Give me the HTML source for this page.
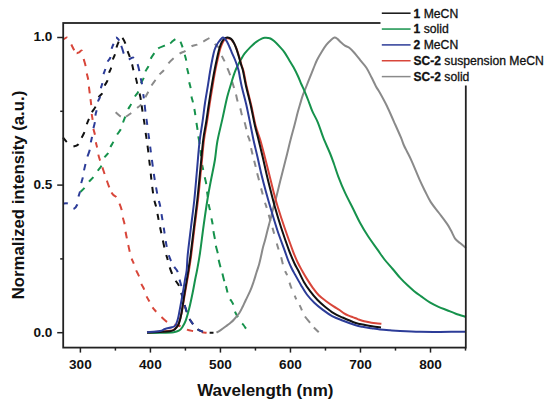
<!DOCTYPE html>
<html><head><meta charset="utf-8"><style>
html,body{margin:0;padding:0;background:#fff;}
svg{display:block;}
text{font-family:"Liberation Sans",sans-serif;fill:#111;}
.tl{font-size:13.6px;font-weight:bold;}
.ti{font-size:17px;font-weight:bold;}
.lg{font-size:12.2px;stroke:#111;stroke-width:0.3px;}
</style></head><body>
<svg width="550" height="404" viewBox="0 0 550 404">
<rect width="550" height="404" fill="#fff"/>
<path d="M115.60,112.30 C116.47,113.03 119.48,115.88 120.80,116.70 C122.12,117.52 122.63,117.20 123.50,117.20 C124.37,117.20 124.72,117.40 126.00,116.70 C127.28,116.00 129.78,114.03 131.20,113.00 C132.62,111.97 133.50,111.33 134.50,110.50 C135.50,109.67 136.12,109.00 137.20,108.00 C138.28,107.00 139.65,106.28 141.00,104.50 C142.35,102.72 144.08,99.42 145.30,97.30 C146.52,95.18 147.27,93.77 148.30,91.80 C149.33,89.83 150.30,87.47 151.50,85.50 C152.70,83.53 154.17,81.83 155.50,80.00 C156.83,78.17 158.10,76.15 159.50,74.50 C160.90,72.85 162.42,71.95 163.90,70.10 C165.38,68.25 166.78,65.38 168.40,63.40 C170.02,61.42 171.75,59.82 173.60,58.20 C175.45,56.58 177.53,54.93 179.50,53.70 C181.47,52.47 183.42,52.03 185.40,50.80 C187.38,49.57 189.42,47.33 191.40,46.30 C193.38,45.27 195.33,45.38 197.30,44.60 C199.27,43.82 201.20,42.67 203.20,41.60 C205.20,40.53 207.97,38.83 209.30,38.20 C210.63,37.57 210.33,36.92 211.20,37.80 C212.07,38.68 213.22,41.83 214.50,43.50 C215.78,45.17 217.70,45.78 218.90,47.80 C220.10,49.82 220.77,53.37 221.70,55.60 C222.63,57.83 223.57,59.15 224.50,61.20 C225.43,63.25 226.37,65.60 227.30,67.90 C228.23,70.20 229.15,72.23 230.10,75.00 C231.05,77.77 232.03,81.28 233.00,84.50 C233.97,87.72 235.13,91.52 235.90,94.30 C236.67,97.08 236.88,98.90 237.60,101.20 C238.32,103.50 239.48,105.80 240.20,108.10 C240.92,110.40 241.18,112.68 241.90,115.00 C242.62,117.32 243.77,119.68 244.50,122.00 C245.23,124.32 245.72,126.58 246.30,128.90 C246.88,131.22 247.47,134.05 248.00,135.90 C248.53,137.75 248.92,137.65 249.50,140.00 C250.08,142.35 250.83,147.00 251.50,150.00 C252.17,153.00 252.83,155.33 253.50,158.00 C254.17,160.67 254.90,163.52 255.50,166.00 C256.10,168.48 256.53,170.58 257.10,172.90 C257.67,175.22 258.25,177.38 258.90,179.90 C259.55,182.42 260.32,185.40 261.00,188.00 C261.68,190.60 262.35,193.10 263.00,195.50 C263.65,197.90 264.28,200.38 264.90,202.40 C265.52,204.42 266.10,205.67 266.70,207.60 C267.30,209.53 267.87,211.77 268.50,214.00 C269.13,216.23 269.85,218.75 270.50,221.00 C271.15,223.25 271.80,225.40 272.40,227.50 C273.00,229.60 273.38,231.00 274.10,233.60 C274.82,236.20 275.97,240.50 276.70,243.10 C277.43,245.70 277.77,246.88 278.50,249.20 C279.23,251.52 280.38,254.55 281.10,257.00 C281.82,259.45 282.15,261.58 282.80,263.90 C283.45,266.22 284.30,269.05 285.00,270.90 C285.70,272.75 286.33,273.32 287.00,275.00 C287.67,276.68 288.33,279.00 289.00,281.00 C289.67,283.00 290.25,285.08 291.00,287.00 C291.75,288.92 292.67,290.53 293.50,292.50 C294.33,294.47 295.00,296.72 296.00,298.80 C297.00,300.88 298.52,303.10 299.50,305.00 C300.48,306.90 301.03,308.35 301.90,310.20 C302.77,312.05 303.37,314.02 304.70,316.10 C306.03,318.18 308.40,320.83 309.90,322.70 C311.40,324.57 312.23,325.70 313.70,327.30 C315.17,328.90 317.87,331.47 318.70,332.30" fill="none" stroke="#8a8a8a" stroke-width="2.0" stroke-linejoin="round" stroke-dasharray="0.00,0.00,6.82,5.42,6.39,7.71,5.46,8.22,6.27,7.07,6.80,6.80,6.23,8.08,7.36,7.43,6.58,7.51,6.16,6.62,6.98,9.07,6.03,8.30,6.26,7.26,7.63,6.88,6.40,6.88,7.11,7.38,7.11,7.47,7.13,6.54,6.40,6.54,6.40,6.54,6.40,6.54,7.23,8.44,6.40,8.44,5.50,7.15,6.40,7.15,6.33,9.85,6.36,8.22,7.11,7.34,4.57,7.72,6.40,7.72,3.97,6.61,5.74,6.90,8.00,6.17,7.07,20.00"/>
<path d="M80.00,192.30 C80.75,191.55 83.00,189.57 84.50,187.80 C86.00,186.03 87.52,183.47 89.00,181.70 C90.48,179.93 91.93,179.02 93.40,177.20 C94.87,175.38 96.45,172.73 97.80,170.80 C99.15,168.87 100.38,167.83 101.50,165.60 C102.62,163.37 103.38,159.50 104.50,157.40 C105.62,155.30 107.22,154.72 108.20,153.00 C109.18,151.28 109.53,148.95 110.40,147.10 C111.27,145.25 112.28,144.00 113.40,141.90 C114.52,139.80 115.87,136.60 117.10,134.50 C118.33,132.40 119.82,131.28 120.80,129.30 C121.78,127.32 122.25,124.70 123.00,122.60 C123.75,120.50 124.43,118.92 125.30,116.70 C126.17,114.48 127.22,111.40 128.20,109.30 C129.18,107.20 130.08,106.20 131.20,104.10 C132.32,102.00 133.72,98.78 134.90,96.70 C136.08,94.62 137.30,93.82 138.30,91.60 C139.30,89.38 139.97,85.75 140.90,83.40 C141.83,81.05 143.15,79.48 143.90,77.50 C144.65,75.52 144.65,73.37 145.40,71.50 C146.15,69.63 147.53,68.40 148.40,66.30 C149.27,64.20 149.62,61.08 150.60,58.90 C151.58,56.72 153.07,54.93 154.30,53.20 C155.53,51.47 156.27,49.77 158.00,48.50 C159.73,47.23 162.72,46.43 164.70,45.60 C166.68,44.77 168.60,44.22 169.90,43.50 C171.20,42.78 171.63,42.00 172.50,41.30 C173.37,40.60 174.30,39.72 175.10,39.30 C175.90,38.88 176.43,38.43 177.30,38.80 C178.17,39.17 179.43,40.12 180.30,41.50 C181.17,42.88 181.77,44.93 182.50,47.10 C183.23,49.27 184.08,52.28 184.70,54.50 C185.32,56.72 185.82,58.18 186.20,60.40 C186.58,62.62 186.63,65.57 187.00,67.80 C187.37,70.03 188.03,71.45 188.40,73.80 C188.77,76.15 188.83,79.55 189.20,81.90 C189.57,84.25 190.23,85.53 190.60,87.90 C190.97,90.27 191.02,93.73 191.40,96.10 C191.78,98.47 192.42,100.00 192.90,102.10 C193.38,104.20 193.87,106.38 194.30,108.70 C194.73,111.02 195.13,113.62 195.50,116.00 C195.87,118.38 196.17,120.75 196.50,123.00 C196.83,125.25 197.20,127.30 197.50,129.50 C197.80,131.70 197.97,133.97 198.30,136.20 C198.63,138.43 199.08,140.02 199.50,142.90 C199.92,145.78 200.42,150.15 200.80,153.50 C201.18,156.85 201.40,160.30 201.80,163.00 C202.20,165.70 202.72,167.37 203.20,169.70 C203.68,172.03 204.20,174.65 204.70,177.00 C205.20,179.35 205.82,181.43 206.20,183.80 C206.58,186.17 206.73,189.00 207.00,191.20 C207.27,193.40 207.53,194.87 207.80,197.00 C208.07,199.13 208.25,201.87 208.60,204.00 C208.95,206.13 209.43,207.47 209.90,209.80 C210.37,212.13 210.95,215.63 211.40,218.00 C211.85,220.37 212.23,221.65 212.60,224.00 C212.97,226.35 213.22,229.62 213.60,232.10 C213.98,234.58 214.53,236.68 214.90,238.90 C215.27,241.12 215.33,243.07 215.80,245.40 C216.27,247.73 217.23,250.57 217.70,252.90 C218.17,255.23 218.15,257.08 218.60,259.40 C219.05,261.72 219.78,264.48 220.40,266.80 C221.02,269.12 221.67,270.97 222.30,273.30 C222.93,275.63 223.58,278.63 224.20,280.80 C224.82,282.97 225.38,284.13 226.00,286.30 C226.62,288.47 227.32,291.77 227.90,293.80 C228.48,295.83 228.95,297.33 229.50,298.50 C230.05,299.67 230.55,299.75 231.20,300.80 C231.85,301.85 232.78,303.02 233.40,304.80 C234.02,306.58 234.15,309.40 234.90,311.50 C235.65,313.60 236.92,315.67 237.90,317.40 C238.88,319.13 239.87,320.63 240.80,321.90 C241.73,323.17 242.63,323.88 243.50,325.00 C244.37,326.12 245.58,328.00 246.00,328.60" fill="none" stroke="#16924c" stroke-width="2.0" stroke-linejoin="round" stroke-dasharray="0.00,0.85,5.52,7.58,6.30,7.77,6.39,8.74,5.78,6.31,6.01,8.28,6.39,7.06,6.33,7.95,6.01,8.27,6.14,8.61,6.15,6.67,6.02,7.73,6.65,6.18,7.32,5.61,6.70,6.45,6.03,7.72,6.09,7.45,6.16,8.14,6.17,8.24,6.19,6.75,6.11,7.84,7.09,6.58,7.66,6.19,6.09,8.80,5.32,7.45,6.96,7.44,5.38,7.36,6.11,8.34,6.12,6.83,8.00,6.82,7.74,6.56,7.62,6.77,7.74,5.30,6.44,7.43,6.23,7.26,6.34,7.43,6.82,20.06"/>
<path d="M63.00,39.60 C63.42,39.37 64.82,38.53 65.50,38.20 C66.18,37.87 66.43,37.13 67.10,37.60 C67.77,38.07 68.83,39.92 69.50,41.00 C70.17,42.08 70.33,42.60 71.10,44.10 C71.87,45.60 73.23,48.48 74.10,50.00 C74.97,51.52 75.48,52.82 76.30,53.20 C77.12,53.58 78.05,52.70 79.00,52.30 C79.95,51.90 81.22,49.70 82.00,50.80 C82.78,51.90 83.12,56.43 83.70,58.90 C84.28,61.37 85.00,63.25 85.50,65.60 C86.00,67.95 86.25,70.68 86.70,73.00 C87.15,75.32 87.83,77.27 88.20,79.50 C88.57,81.73 88.65,84.15 88.90,86.40 C89.15,88.65 89.43,90.90 89.70,93.00 C89.97,95.10 90.25,97.00 90.50,99.00 C90.75,101.00 91.00,102.55 91.20,105.00 C91.40,107.45 91.47,111.25 91.70,113.70 C91.93,116.15 92.32,117.22 92.60,119.70 C92.88,122.18 93.02,126.13 93.40,128.60 C93.78,131.07 94.50,132.28 94.90,134.50 C95.30,136.72 95.43,139.73 95.80,141.90 C96.17,144.07 96.68,145.40 97.10,147.50 C97.52,149.60 97.82,152.35 98.30,154.50 C98.78,156.65 99.33,158.30 100.00,160.40 C100.67,162.50 101.55,164.88 102.30,167.10 C103.05,169.32 103.75,171.47 104.50,173.70 C105.25,175.93 106.05,178.33 106.80,180.50 C107.55,182.67 108.30,184.87 109.00,186.70 C109.70,188.53 110.27,190.12 111.00,191.50 C111.73,192.88 112.50,194.03 113.40,195.00 C114.30,195.97 115.42,195.93 116.40,197.30 C117.38,198.67 118.43,201.12 119.30,203.20 C120.17,205.28 121.02,207.45 121.60,209.80 C122.18,212.15 122.32,214.95 122.80,217.30 C123.28,219.65 124.05,221.55 124.50,223.90 C124.95,226.25 125.12,229.05 125.50,231.40 C125.88,233.75 126.35,235.78 126.80,238.00 C127.25,240.22 127.72,242.47 128.20,244.70 C128.68,246.93 129.15,249.15 129.70,251.40 C130.25,253.65 130.83,256.20 131.50,258.20 C132.17,260.20 132.95,261.43 133.70,263.40 C134.45,265.37 135.13,267.90 136.00,270.00 C136.87,272.10 138.03,273.77 138.90,276.00 C139.77,278.23 140.33,281.18 141.20,283.40 C142.07,285.62 143.23,287.20 144.10,289.30 C144.97,291.40 145.53,294.02 146.40,296.00 C147.27,297.98 148.32,299.35 149.30,301.20 C150.28,303.05 151.18,305.38 152.30,307.10 C153.42,308.82 154.52,309.90 156.00,311.50 C157.48,313.10 159.70,315.23 161.20,316.70 C162.70,318.17 163.93,319.42 165.00,320.30 C166.07,321.18 166.02,321.28 167.60,322.00 C169.18,322.72 172.33,323.88 174.50,324.60 C176.67,325.32 178.57,325.48 180.60,326.30 C182.63,327.12 184.68,328.72 186.70,329.50 C188.72,330.28 190.25,330.53 192.70,331.00 C195.15,331.47 199.08,332.02 201.40,332.30 C203.72,332.58 205.73,332.63 206.60,332.70" fill="none" stroke="#d8463a" stroke-width="2.0" stroke-linejoin="round" stroke-dasharray="0.00,0.00,4.87,7.94,6.48,3.93,6.53,8.01,7.50,7.31,6.50,6.94,6.65,5.90,6.01,8.90,6.07,8.94,6.09,7.46,5.43,7.25,6.31,7.08,6.96,7.01,7.19,5.46,6.90,7.23,6.83,7.60,6.82,7.57,6.73,6.84,6.87,7.04,5.65,6.99,6.67,7.75,6.58,7.09,5.96,6.62,5.76,7.35,7.59,7.61,6.38,7.22,6.36,8.80,5.22,20.00"/>
<path d="M63.00,137.50 C63.62,138.25 65.53,140.53 66.70,142.00 C67.87,143.47 68.88,145.53 70.00,146.30 C71.12,147.07 71.98,146.95 73.40,146.60 C74.82,146.25 77.15,145.63 78.50,144.20 C79.85,142.77 80.50,140.03 81.50,138.00 C82.50,135.97 83.63,134.25 84.50,132.00 C85.37,129.75 85.97,126.68 86.70,124.50 C87.43,122.32 88.03,120.93 88.90,118.90 C89.77,116.87 90.78,114.37 91.90,112.30 C93.02,110.23 94.48,108.98 95.60,106.50 C96.72,104.02 97.48,99.62 98.60,97.40 C99.72,95.18 101.32,95.10 102.30,93.20 C103.28,91.30 103.63,88.13 104.50,86.00 C105.37,83.87 106.75,82.57 107.50,80.40 C108.25,78.23 108.38,75.10 109.00,73.00 C109.62,70.90 110.58,69.97 111.20,67.80 C111.82,65.63 112.08,62.22 112.70,60.00 C113.32,57.78 114.28,56.53 114.90,54.50 C115.52,52.47 115.78,49.90 116.40,47.80 C117.02,45.70 117.92,43.50 118.60,41.90 C119.28,40.30 119.88,38.92 120.50,38.20 C121.12,37.48 121.50,36.73 122.30,37.60 C123.10,38.47 124.43,41.20 125.30,43.40 C126.17,45.60 126.77,48.58 127.50,50.80 C128.23,53.02 128.95,54.50 129.70,56.70 C130.45,58.90 131.38,61.78 132.00,64.00 C132.62,66.22 132.78,67.75 133.40,70.00 C134.02,72.25 135.02,75.00 135.70,77.50 C136.38,80.00 136.87,82.38 137.50,85.00 C138.13,87.62 138.93,90.70 139.50,93.20 C140.07,95.70 140.48,97.53 140.90,100.00 C141.32,102.47 141.62,105.33 142.00,108.00 C142.38,110.67 142.77,113.28 143.20,116.00 C143.63,118.72 144.20,121.55 144.60,124.30 C145.00,127.05 145.22,129.72 145.60,132.50 C145.98,135.28 146.47,137.92 146.90,141.00 C147.33,144.08 147.82,147.83 148.20,151.00 C148.58,154.17 148.87,157.17 149.20,160.00 C149.53,162.83 149.88,165.17 150.20,168.00 C150.52,170.83 150.73,173.67 151.10,177.00 C151.47,180.33 151.92,184.33 152.40,188.00 C152.88,191.67 153.37,195.83 154.00,199.00 C154.63,202.17 155.57,204.25 156.20,207.00 C156.83,209.75 157.23,212.50 157.80,215.50 C158.37,218.50 158.98,221.92 159.60,225.00 C160.22,228.08 160.90,231.17 161.50,234.00 C162.10,236.83 162.55,239.00 163.20,242.00 C163.85,245.00 164.68,249.17 165.40,252.00 C166.12,254.83 166.80,256.50 167.50,259.00 C168.20,261.50 168.85,264.58 169.60,267.00 C170.35,269.42 171.03,271.27 172.00,273.50 C172.97,275.73 174.25,278.38 175.40,280.40 C176.55,282.42 177.92,283.42 178.90,285.60 C179.88,287.78 180.62,291.35 181.30,293.50 C181.98,295.65 182.47,296.63 183.00,298.50 C183.53,300.37 183.88,302.52 184.50,304.70 C185.12,306.88 185.90,309.30 186.70,311.60 C187.50,313.90 188.30,316.48 189.30,318.50 C190.30,320.52 191.40,321.97 192.70,323.70 C194.00,325.43 195.50,327.60 197.10,328.90 C198.70,330.20 200.65,330.88 202.30,331.50 C203.95,332.12 205.13,332.40 207.00,332.60 C208.87,332.80 212.42,332.68 213.50,332.70" fill="none" stroke="#111111" stroke-width="2.0" stroke-linejoin="round" stroke-dasharray="0.00,0.00,5.83,8.99,5.71,7.09,6.36,8.17,5.85,7.25,6.69,9.80,5.49,7.87,6.19,7.56,5.66,8.12,5.76,6.87,6.30,6.51,6.55,7.72,6.30,7.65,6.16,7.85,6.13,10.03,6.39,5.55,6.30,7.38,5.91,8.26,6.12,6.72,6.80,7.46,6.05,8.12,5.94,7.32,6.27,7.64,6.08,7.46,6.08,7.49,6.21,7.53,6.93,7.62,5.35,7.68,6.93,7.70,6.28,7.16,4.21,8.55,7.24,7.38,6.22,6.83,5.84,7.06,4.29,20.00"/>
<path d="M63.00,203.50 C63.80,203.50 66.55,203.00 67.80,203.50 C69.05,204.00 69.57,205.58 70.50,206.50 C71.43,207.42 72.27,209.33 73.40,209.00 C74.53,208.67 76.47,206.50 77.30,204.50 C78.13,202.50 77.95,199.17 78.40,197.00 C78.85,194.83 79.53,193.77 80.00,191.50 C80.47,189.23 80.73,185.73 81.20,183.40 C81.67,181.07 82.33,179.65 82.80,177.50 C83.27,175.35 83.55,172.75 84.00,170.50 C84.45,168.25 84.93,166.30 85.50,164.00 C86.07,161.70 86.70,159.03 87.40,156.70 C88.10,154.37 89.13,152.37 89.70,150.00 C90.27,147.63 90.42,144.67 90.80,142.50 C91.18,140.33 91.57,139.32 92.00,137.00 C92.43,134.68 92.92,131.10 93.40,128.60 C93.88,126.10 94.53,124.35 94.90,122.00 C95.27,119.65 95.28,116.58 95.60,114.50 C95.92,112.42 96.43,111.58 96.80,109.50 C97.17,107.42 97.27,104.13 97.80,102.00 C98.33,99.87 99.50,98.93 100.00,96.70 C100.50,94.47 100.42,90.82 100.80,88.60 C101.18,86.38 101.93,85.50 102.30,83.40 C102.67,81.30 102.50,78.35 103.00,76.00 C103.50,73.65 104.55,71.63 105.30,69.30 C106.05,66.97 106.65,63.98 107.50,62.00 C108.35,60.02 109.73,59.52 110.40,57.40 C111.07,55.28 111.00,51.52 111.50,49.30 C112.00,47.08 112.72,46.05 113.40,44.10 C114.08,42.15 114.75,38.37 115.60,37.60 C116.45,36.83 117.72,38.52 118.50,39.50 C119.28,40.48 119.68,42.00 120.30,43.50 C120.92,45.00 121.62,46.80 122.20,48.50 C122.78,50.20 123.17,52.03 123.80,53.70 C124.43,55.37 125.27,57.53 126.00,58.50 C126.73,59.47 127.37,59.53 128.20,59.50 C129.03,59.47 130.13,58.62 131.00,58.30 C131.87,57.98 132.65,57.32 133.40,57.60 C134.15,57.88 134.82,58.93 135.50,60.00 C136.18,61.07 136.92,62.42 137.50,64.00 C138.08,65.58 138.50,67.25 139.00,69.50 C139.50,71.75 140.00,75.08 140.50,77.50 C141.00,79.92 141.55,81.33 142.00,84.00 C142.45,86.67 142.83,90.67 143.20,93.50 C143.57,96.33 143.90,98.58 144.20,101.00 C144.50,103.42 144.70,105.50 145.00,108.00 C145.30,110.50 145.63,113.28 146.00,116.00 C146.37,118.72 146.82,121.47 147.20,124.30 C147.58,127.13 147.92,130.22 148.30,133.00 C148.68,135.78 149.12,138.17 149.50,141.00 C149.88,143.83 150.22,147.00 150.60,150.00 C150.98,153.00 151.40,156.00 151.80,159.00 C152.20,162.00 152.58,165.00 153.00,168.00 C153.42,171.00 153.80,173.83 154.30,177.00 C154.80,180.17 155.38,183.58 156.00,187.00 C156.62,190.42 157.30,194.32 158.00,197.50 C158.70,200.68 159.57,203.02 160.20,206.10 C160.83,209.18 161.25,212.68 161.80,216.00 C162.35,219.32 162.97,222.67 163.50,226.00 C164.03,229.33 164.50,232.75 165.00,236.00 C165.50,239.25 165.90,242.42 166.50,245.50 C167.10,248.58 167.88,252.02 168.60,254.50 C169.32,256.98 169.93,258.43 170.80,260.40 C171.67,262.37 172.68,264.45 173.80,266.30 C174.92,268.15 176.55,269.30 177.50,271.50 C178.45,273.70 178.83,276.92 179.50,279.50 C180.17,282.08 180.92,283.92 181.50,287.00 C182.08,290.08 182.50,295.05 183.00,298.00 C183.50,300.95 183.88,302.43 184.50,304.70 C185.12,306.97 185.90,309.30 186.70,311.60 C187.50,313.90 188.30,316.48 189.30,318.50 C190.30,320.52 191.40,321.97 192.70,323.70 C194.00,325.43 195.50,327.60 197.10,328.90 C198.70,330.20 200.65,330.88 202.30,331.50 C203.95,332.12 206.22,332.42 207.00,332.60" fill="none" stroke="#2c3c98" stroke-width="2.0" stroke-linejoin="round" stroke-dasharray="0.00,0.30,4.54,8.11,6.08,7.77,5.40,8.36,5.95,7.09,6.67,7.72,7.09,7.42,5.62,8.69,6.42,6.34,5.68,8.75,5.60,8.15,5.42,9.04,5.49,7.63,5.47,8.19,5.54,6.90,4.69,5.55,8.00,8.60,5.63,7.21,7.31,7.04,6.28,9.76,4.34,6.76,6.66,7.40,6.11,8.13,6.05,7.61,5.95,7.49,6.81,7.42,6.16,7.43,6.23,7.48,6.12,7.49,6.09,7.62,5.85,7.63,5.95,8.53,6.30,6.62,6.40,7.65,6.83,6.47,6.40,6.47,7.42,7.38,6.22,6.83,5.84,24.83"/>
<path d="M216.50,332.60 C217.25,332.13 219.43,330.85 221.00,329.80 C222.57,328.75 224.40,327.40 225.90,326.30 C227.40,325.20 228.65,324.33 230.00,323.20 C231.35,322.07 232.42,321.25 234.00,319.50 C235.58,317.75 238.03,314.87 239.50,312.70 C240.97,310.53 241.75,308.62 242.80,306.50 C243.85,304.38 244.55,302.63 245.80,300.00 C247.05,297.37 249.00,293.73 250.30,290.70 C251.60,287.67 252.58,284.78 253.60,281.80 C254.62,278.82 255.47,275.78 256.40,272.80 C257.33,269.82 258.40,266.78 259.20,263.90 C260.00,261.02 260.58,258.20 261.20,255.50 C261.82,252.80 262.28,250.17 262.90,247.70 C263.52,245.23 264.23,243.18 264.90,240.70 C265.57,238.22 266.23,235.43 266.90,232.80 C267.57,230.17 268.25,227.37 268.90,224.90 C269.55,222.43 269.98,221.15 270.80,218.00 C271.62,214.85 272.82,209.75 273.80,206.00 C274.78,202.25 275.65,199.57 276.70,195.50 C277.75,191.43 278.95,186.23 280.10,181.60 C281.25,176.97 282.43,172.32 283.60,167.70 C284.77,163.08 285.95,158.52 287.10,153.90 C288.25,149.28 289.28,144.73 290.50,140.00 C291.72,135.27 293.18,130.15 294.40,125.50 C295.62,120.85 296.82,115.78 297.80,112.10 C298.78,108.42 299.43,106.30 300.30,103.40 C301.17,100.50 301.97,97.60 303.00,94.70 C304.03,91.80 305.35,88.88 306.50,86.00 C307.65,83.12 308.75,80.28 309.90,77.40 C311.05,74.52 312.23,71.57 313.40,68.70 C314.57,65.83 315.48,63.08 316.90,60.20 C318.32,57.32 320.33,53.97 321.90,51.40 C323.47,48.83 324.82,46.67 326.30,44.80 C327.78,42.93 329.43,41.40 330.80,40.20 C332.17,39.00 333.40,37.82 334.50,37.60 C335.60,37.38 336.28,38.07 337.40,38.90 C338.52,39.73 339.95,41.48 341.20,42.60 C342.45,43.72 343.55,44.73 344.90,45.60 C346.25,46.47 347.70,46.57 349.30,47.80 C350.90,49.03 352.65,50.90 354.50,53.00 C356.35,55.10 358.42,57.93 360.40,60.40 C362.38,62.87 364.53,64.95 366.40,67.80 C368.27,70.65 370.00,74.40 371.60,77.50 C373.20,80.60 374.60,83.82 376.00,86.40 C377.40,88.98 378.18,89.73 380.00,93.00 C381.82,96.27 384.58,101.23 386.90,106.00 C389.22,110.77 391.58,116.40 393.90,121.60 C396.22,126.80 399.12,133.22 400.80,137.20 C402.48,141.18 402.97,143.12 404.00,145.50 C405.03,147.88 405.70,148.87 407.00,151.50 C408.30,154.13 409.65,156.48 411.80,161.30 C413.95,166.12 417.70,175.45 419.90,180.40 C422.10,185.35 423.18,187.38 425.00,191.00 C426.82,194.62 428.47,198.43 430.80,202.10 C433.13,205.77 436.28,209.37 439.00,213.00 C441.72,216.63 445.10,220.98 447.10,223.90 C449.10,226.82 449.63,228.00 451.00,230.50 C452.37,233.00 453.80,236.82 455.30,238.90 C456.80,240.98 458.42,241.65 460.00,243.00 C461.58,244.35 463.80,246.17 464.80,247.00 C465.80,247.83 465.80,247.83 466.00,248.00" fill="none" stroke="#8a8a8a" stroke-width="2.0" stroke-linejoin="round"/>
<path d="M147.00,332.90 C149.17,332.88 155.55,332.92 160.00,332.80 C164.45,332.68 170.55,332.55 173.70,332.20 C176.85,331.85 177.47,331.53 178.90,330.70 C180.33,329.87 181.15,328.93 182.30,327.20 C183.45,325.47 184.63,323.48 185.80,320.30 C186.97,317.12 188.15,312.73 189.30,308.10 C190.45,303.47 191.70,297.40 192.70,292.50 C193.70,287.60 194.57,282.45 195.30,278.70 C196.03,274.95 196.32,274.28 197.10,270.00 C197.88,265.72 198.90,260.50 200.00,253.00 C201.10,245.50 202.42,234.17 203.70,225.00 C204.98,215.83 206.48,205.50 207.70,198.00 C208.92,190.50 209.80,186.33 211.00,180.00 C212.20,173.67 213.85,166.38 214.90,160.00 C215.95,153.62 216.07,148.47 217.30,141.70 C218.53,134.93 220.65,126.83 222.30,119.40 C223.95,111.97 225.75,103.00 227.20,97.10 C228.65,91.20 229.75,88.12 231.00,84.00 C232.25,79.88 233.53,75.57 234.70,72.40 C235.87,69.23 236.95,67.15 238.00,65.00 C239.05,62.85 239.92,61.38 241.00,59.50 C242.08,57.62 242.93,55.77 244.50,53.70 C246.07,51.63 248.43,49.07 250.40,47.10 C252.37,45.13 254.32,43.35 256.30,41.90 C258.28,40.45 260.82,39.08 262.30,38.40 C263.78,37.72 264.25,37.88 265.20,37.80 C266.15,37.72 267.13,37.78 268.00,37.90 C268.87,38.02 269.38,37.97 270.40,38.50 C271.42,39.03 272.48,39.67 274.10,41.10 C275.72,42.53 278.37,45.23 280.10,47.10 C281.83,48.97 283.02,50.20 284.50,52.30 C285.98,54.40 287.52,57.23 289.00,59.70 C290.48,62.17 291.92,64.38 293.40,67.10 C294.88,69.82 296.55,73.10 297.90,76.00 C299.25,78.90 300.40,81.98 301.50,84.50 C302.60,87.02 303.33,88.35 304.50,91.10 C305.67,93.85 307.20,97.65 308.50,101.00 C309.80,104.35 310.75,107.65 312.30,111.20 C313.85,114.75 315.95,117.85 317.80,122.30 C319.65,126.75 321.35,132.70 323.40,137.90 C325.45,143.10 328.33,149.15 330.10,153.50 C331.87,157.85 332.65,160.20 334.00,164.00 C335.35,167.80 336.37,171.52 338.20,176.30 C340.03,181.08 342.50,187.25 345.00,192.70 C347.50,198.15 350.70,204.00 353.20,209.00 C355.70,214.00 357.52,218.15 360.00,222.70 C362.48,227.25 365.15,231.77 368.10,236.30 C371.05,240.83 374.97,246.03 377.70,249.90 C380.43,253.77 382.00,256.32 384.50,259.50 C387.00,262.68 390.05,265.88 392.70,269.00 C395.35,272.12 397.97,275.52 400.40,278.20 C402.83,280.88 405.00,282.93 407.30,285.10 C409.60,287.27 411.88,289.32 414.20,291.20 C416.52,293.08 418.60,294.53 421.20,296.40 C423.80,298.27 426.92,300.67 429.80,302.40 C432.68,304.13 435.62,305.50 438.50,306.80 C441.38,308.10 444.22,309.05 447.10,310.20 C449.98,311.35 452.65,312.60 455.80,313.70 C458.95,314.80 464.30,316.28 466.00,316.80" fill="none" stroke="#16924c" stroke-width="2.0" stroke-linejoin="round"/>
<path d="M147.00,332.40 C149.17,332.27 156.17,331.87 160.00,331.60 C163.83,331.33 167.67,331.15 170.00,330.80 C172.33,330.45 172.92,330.13 174.00,329.50 C175.08,328.87 175.67,328.17 176.50,327.00 C177.33,325.83 178.17,324.78 179.00,322.50 C179.83,320.22 180.58,317.72 181.50,313.30 C182.42,308.88 183.55,301.48 184.50,296.00 C185.45,290.52 186.45,284.73 187.20,280.40 C187.95,276.07 188.33,274.23 189.00,270.00 C189.67,265.77 190.27,262.17 191.20,255.00 C192.13,247.83 193.47,236.17 194.60,227.00 C195.73,217.83 196.93,209.50 198.00,200.00 C199.07,190.50 200.00,180.00 201.00,170.00 C202.00,160.00 203.00,148.02 204.00,140.00 C205.00,131.98 206.08,127.73 207.00,121.90 C207.92,116.07 208.67,110.37 209.50,105.00 C210.33,99.63 211.12,95.03 212.00,89.70 C212.88,84.37 213.77,78.45 214.80,73.00 C215.83,67.55 217.25,61.17 218.20,57.00 C219.15,52.83 219.73,50.47 220.50,48.00 C221.27,45.53 222.05,43.70 222.80,42.20 C223.55,40.70 224.30,39.67 225.00,39.00 C225.70,38.33 226.25,38.27 227.00,38.20 C227.75,38.13 228.67,38.27 229.50,38.60 C230.33,38.93 231.22,39.37 232.00,40.20 C232.78,41.03 233.50,42.30 234.20,43.60 C234.90,44.90 235.53,46.35 236.20,48.00 C236.87,49.65 237.55,51.50 238.20,53.50 C238.85,55.50 239.50,57.92 240.10,60.00 C240.70,62.08 241.23,64.17 241.80,66.00 C242.37,67.83 242.93,68.75 243.50,71.00 C244.07,73.25 244.62,76.67 245.20,79.50 C245.78,82.33 245.98,83.67 247.00,88.00 C248.02,92.33 249.85,99.17 251.30,105.50 C252.75,111.83 254.20,120.25 255.70,126.00 C257.20,131.75 258.78,134.83 260.30,140.00 C261.82,145.17 263.30,151.22 264.80,157.00 C266.30,162.78 267.83,168.87 269.30,174.70 C270.77,180.53 272.18,186.62 273.60,192.00 C275.02,197.38 275.98,201.08 277.80,207.00 C279.62,212.92 281.93,220.03 284.50,227.50 C287.07,234.97 291.03,246.05 293.20,251.80 C295.37,257.55 296.08,258.97 297.50,262.00 C298.92,265.03 300.13,267.18 301.70,270.00 C303.27,272.82 305.05,275.93 306.90,278.90 C308.75,281.87 310.82,285.07 312.80,287.80 C314.78,290.53 316.57,293.07 318.80,295.30 C321.03,297.53 323.73,299.35 326.20,301.20 C328.67,303.05 331.38,304.93 333.60,306.40 C335.82,307.87 337.75,308.83 339.50,310.00 C341.25,311.17 342.58,312.45 344.10,313.40 C345.62,314.35 347.08,315.03 348.60,315.70 C350.12,316.37 351.68,316.83 353.20,317.40 C354.72,317.97 356.18,318.55 357.70,319.10 C359.22,319.65 360.78,320.25 362.30,320.70 C363.82,321.15 365.28,321.47 366.80,321.80 C368.32,322.13 369.88,322.45 371.40,322.70 C372.92,322.95 374.23,323.12 375.90,323.30 C377.57,323.48 380.48,323.72 381.40,323.80" fill="none" stroke="#d8463a" stroke-width="2.0" stroke-linejoin="round"/>
<path d="M147.00,332.60 C149.17,332.48 156.17,332.13 160.00,331.90 C163.83,331.67 167.67,331.52 170.00,331.20 C172.33,330.88 172.92,330.62 174.00,330.00 C175.08,329.38 175.68,328.55 176.50,327.50 C177.32,326.45 178.07,326.07 178.90,323.70 C179.73,321.33 180.63,317.92 181.50,313.30 C182.37,308.68 183.23,301.48 184.10,296.00 C184.97,290.52 185.98,284.73 186.70,280.40 C187.42,276.07 187.75,274.23 188.40,270.00 C189.05,265.77 189.67,262.17 190.60,255.00 C191.53,247.83 192.88,236.17 194.00,227.00 C195.12,217.83 196.25,209.50 197.30,200.00 C198.35,190.50 199.32,180.00 200.30,170.00 C201.28,160.00 202.22,148.02 203.20,140.00 C204.18,131.98 205.28,127.73 206.20,121.90 C207.12,116.07 207.88,110.37 208.70,105.00 C209.52,99.63 210.22,95.03 211.10,89.70 C211.98,84.37 212.97,78.45 214.00,73.00 C215.03,67.55 216.38,61.17 217.30,57.00 C218.22,52.83 218.77,50.47 219.50,48.00 C220.23,45.53 220.87,43.77 221.70,42.20 C222.53,40.63 223.57,39.37 224.50,38.60 C225.43,37.83 226.47,37.70 227.30,37.60 C228.13,37.50 228.77,37.68 229.50,38.00 C230.23,38.32 231.00,38.75 231.70,39.50 C232.40,40.25 233.05,41.30 233.70,42.50 C234.35,43.70 234.95,45.03 235.60,46.70 C236.25,48.37 236.95,50.45 237.60,52.50 C238.25,54.55 238.90,56.92 239.50,59.00 C240.10,61.08 240.65,63.17 241.20,65.00 C241.75,66.83 242.25,67.75 242.80,70.00 C243.35,72.25 243.92,75.62 244.50,78.50 C245.08,81.38 245.28,82.93 246.30,87.30 C247.32,91.67 249.17,98.33 250.60,104.70 C252.03,111.07 253.57,119.62 254.90,125.50 C256.23,131.38 257.30,134.75 258.60,140.00 C259.90,145.25 261.35,151.22 262.70,157.00 C264.05,162.78 265.32,168.87 266.70,174.70 C268.08,180.53 269.58,186.45 271.00,192.00 C272.42,197.55 273.52,202.08 275.20,208.00 C276.88,213.92 278.82,220.48 281.10,227.50 C283.38,234.52 286.67,244.10 288.90,250.10 C291.13,256.10 292.98,260.18 294.50,263.50 C296.02,266.82 296.43,266.93 298.00,270.00 C299.57,273.07 301.92,278.43 303.90,281.90 C305.88,285.37 307.67,287.83 309.90,290.80 C312.13,293.77 314.83,297.10 317.30,299.70 C319.77,302.30 321.98,304.17 324.70,306.40 C327.42,308.63 330.63,311.25 333.60,313.10 C336.57,314.95 338.93,315.90 342.50,317.50 C346.07,319.10 351.25,321.45 355.00,322.70 C358.75,323.95 362.17,324.40 365.00,325.00 C367.83,325.60 369.33,325.90 372.00,326.30 C374.67,326.70 379.50,327.22 381.00,327.40" fill="none" stroke="#111111" stroke-width="2.0" stroke-linejoin="round"/>
<path d="M147.00,332.20 C149.17,332.00 157.00,331.53 160.00,331.00 C163.00,330.47 163.02,329.63 165.00,329.00 C166.98,328.37 170.17,327.78 171.90,327.20 C173.63,326.62 174.38,326.95 175.40,325.50 C176.42,324.05 177.28,321.10 178.00,318.50 C178.72,315.90 178.98,313.65 179.70,309.90 C180.42,306.15 181.43,300.92 182.30,296.00 C183.17,291.08 184.17,284.73 184.90,280.40 C185.63,276.07 186.23,274.23 186.70,270.00 C187.17,265.77 186.98,262.17 187.70,255.00 C188.42,247.83 189.90,236.17 191.00,227.00 C192.10,217.83 193.30,209.50 194.30,200.00 C195.30,190.50 196.13,179.67 197.00,170.00 C197.87,160.33 198.58,150.02 199.50,142.00 C200.42,133.98 201.58,128.40 202.50,121.90 C203.42,115.40 204.08,109.18 205.00,103.00 C205.92,96.82 207.17,89.97 208.00,84.80 C208.83,79.63 209.23,76.47 210.00,72.00 C210.77,67.53 211.85,61.67 212.60,58.00 C213.35,54.33 213.82,52.17 214.50,50.00 C215.18,47.83 215.95,46.42 216.70,45.00 C217.45,43.58 218.35,42.42 219.00,41.50 C219.65,40.58 219.97,40.18 220.60,39.50 C221.23,38.82 222.10,37.52 222.80,37.40 C223.50,37.28 224.05,38.00 224.80,38.80 C225.55,39.60 226.52,40.83 227.30,42.20 C228.08,43.57 228.77,45.32 229.50,47.00 C230.23,48.68 230.77,50.13 231.70,52.30 C232.63,54.47 233.97,57.05 235.10,60.00 C236.23,62.95 237.68,67.00 238.50,70.00 C239.32,73.00 239.43,75.12 240.00,78.00 C240.57,80.88 240.85,82.85 241.90,87.30 C242.95,91.75 244.85,98.33 246.30,104.70 C247.75,111.07 249.40,119.62 250.60,125.50 C251.80,131.38 252.35,134.75 253.50,140.00 C254.65,145.25 256.17,151.22 257.50,157.00 C258.83,162.78 260.08,168.87 261.50,174.70 C262.92,180.53 264.47,186.37 266.00,192.00 C267.53,197.63 268.77,202.00 270.70,208.50 C272.63,215.00 275.30,224.07 277.60,231.00 C279.90,237.93 282.77,245.27 284.50,250.10 C286.23,254.93 286.83,257.02 288.00,260.00 C289.17,262.98 290.33,265.58 291.50,268.00 C292.67,270.42 293.43,271.68 295.00,274.50 C296.57,277.32 298.92,281.57 300.90,284.90 C302.88,288.23 304.67,291.53 306.90,294.50 C309.13,297.47 311.58,300.10 314.30,302.70 C317.02,305.30 320.23,307.87 323.20,310.10 C326.17,312.33 328.88,314.37 332.10,316.10 C335.32,317.83 338.68,319.02 342.50,320.50 C346.32,321.98 351.70,323.95 355.00,325.00 C358.30,326.05 359.57,326.27 362.30,326.80 C365.03,327.33 368.45,327.77 371.40,328.20 C374.35,328.63 376.90,329.05 380.00,329.40 C383.10,329.75 386.67,330.03 390.00,330.30 C393.33,330.57 395.00,330.75 400.00,331.00 C405.00,331.25 413.33,331.65 420.00,331.80 C426.67,331.95 432.33,331.90 440.00,331.90 C447.67,331.90 461.67,331.82 466.00,331.80" fill="none" stroke="#2c3c98" stroke-width="2.0" stroke-linejoin="round"/>
<rect x="63.2" y="23.0" width="402.6" height="324.6" fill="none" stroke="#222222" stroke-width="1.8"/>
<line x1="80.40" y1="347.6" x2="80.40" y2="352.6" stroke="#222222" stroke-width="1.5"/>
<line x1="115.41" y1="347.6" x2="115.41" y2="350.6" stroke="#222222" stroke-width="1.5"/>
<line x1="150.42" y1="347.6" x2="150.42" y2="352.6" stroke="#222222" stroke-width="1.5"/>
<line x1="185.43" y1="347.6" x2="185.43" y2="350.6" stroke="#222222" stroke-width="1.5"/>
<line x1="220.44" y1="347.6" x2="220.44" y2="352.6" stroke="#222222" stroke-width="1.5"/>
<line x1="255.45" y1="347.6" x2="255.45" y2="350.6" stroke="#222222" stroke-width="1.5"/>
<line x1="290.46" y1="347.6" x2="290.46" y2="352.6" stroke="#222222" stroke-width="1.5"/>
<line x1="325.47" y1="347.6" x2="325.47" y2="350.6" stroke="#222222" stroke-width="1.5"/>
<line x1="360.48" y1="347.6" x2="360.48" y2="352.6" stroke="#222222" stroke-width="1.5"/>
<line x1="395.49" y1="347.6" x2="395.49" y2="350.6" stroke="#222222" stroke-width="1.5"/>
<line x1="430.50" y1="347.6" x2="430.50" y2="352.6" stroke="#222222" stroke-width="1.5"/>
<line x1="465.51" y1="347.6" x2="465.51" y2="350.6" stroke="#222222" stroke-width="1.5"/>
<line x1="57.2" y1="332.70" x2="63.2" y2="332.70" stroke="#222222" stroke-width="1.5"/>
<line x1="60.2" y1="258.90" x2="63.2" y2="258.90" stroke="#222222" stroke-width="1.5"/>
<line x1="57.2" y1="185.10" x2="63.2" y2="185.10" stroke="#222222" stroke-width="1.5"/>
<line x1="60.2" y1="111.30" x2="63.2" y2="111.30" stroke="#222222" stroke-width="1.5"/>
<line x1="57.2" y1="37.50" x2="63.2" y2="37.50" stroke="#222222" stroke-width="1.5"/>
<rect x="380.5" y="0" width="170" height="85.5" fill="#fff"/>
<line x1="381.8" y1="13.20" x2="410.6" y2="13.20" stroke="#111111" stroke-width="1.5"/>
<text x="413.6" y="17.50" class="lg"><tspan font-weight="bold" font-size="12">1</tspan> MeCN</text>
<line x1="381.8" y1="29.05" x2="410.6" y2="29.05" stroke="#16924c" stroke-width="1.5"/>
<text x="413.6" y="33.35" class="lg"><tspan font-weight="bold" font-size="12">1</tspan> solid</text>
<line x1="381.8" y1="44.90" x2="410.6" y2="44.90" stroke="#2c3c98" stroke-width="1.5"/>
<text x="413.6" y="49.20" class="lg"><tspan font-weight="bold" font-size="12">2</tspan> MeCN</text>
<line x1="381.8" y1="60.75" x2="410.6" y2="60.75" stroke="#d8463a" stroke-width="1.5"/>
<text x="413.6" y="65.05" class="lg"><tspan font-weight="bold" font-size="12">SC-2</tspan> suspension MeCN</text>
<line x1="381.8" y1="76.60" x2="410.6" y2="76.60" stroke="#8a8a8a" stroke-width="1.5"/>
<text x="413.6" y="80.90" class="lg"><tspan font-weight="bold" font-size="12">SC-2</tspan> solid</text>
<text x="80.40" y="369.3" text-anchor="middle" class="tl">300</text>
<text x="150.42" y="369.3" text-anchor="middle" class="tl">400</text>
<text x="220.44" y="369.3" text-anchor="middle" class="tl">500</text>
<text x="290.46" y="369.3" text-anchor="middle" class="tl">600</text>
<text x="360.48" y="369.3" text-anchor="middle" class="tl">700</text>
<text x="430.50" y="369.3" text-anchor="middle" class="tl">800</text>
<text x="52.4" y="336.60" text-anchor="end" class="tl">0.0</text>
<text x="52.4" y="189.00" text-anchor="end" class="tl">0.5</text>
<text x="52.4" y="41.40" text-anchor="end" class="tl">1.0</text>
<text x="265.3" y="396" text-anchor="middle" class="ti">Wavelength (nm)</text>
<text transform="translate(24,195) rotate(-90)" text-anchor="middle" class="ti" style="font-size:16.75px">Normalized intensity (a.u.)</text>
</svg>
</body></html>
